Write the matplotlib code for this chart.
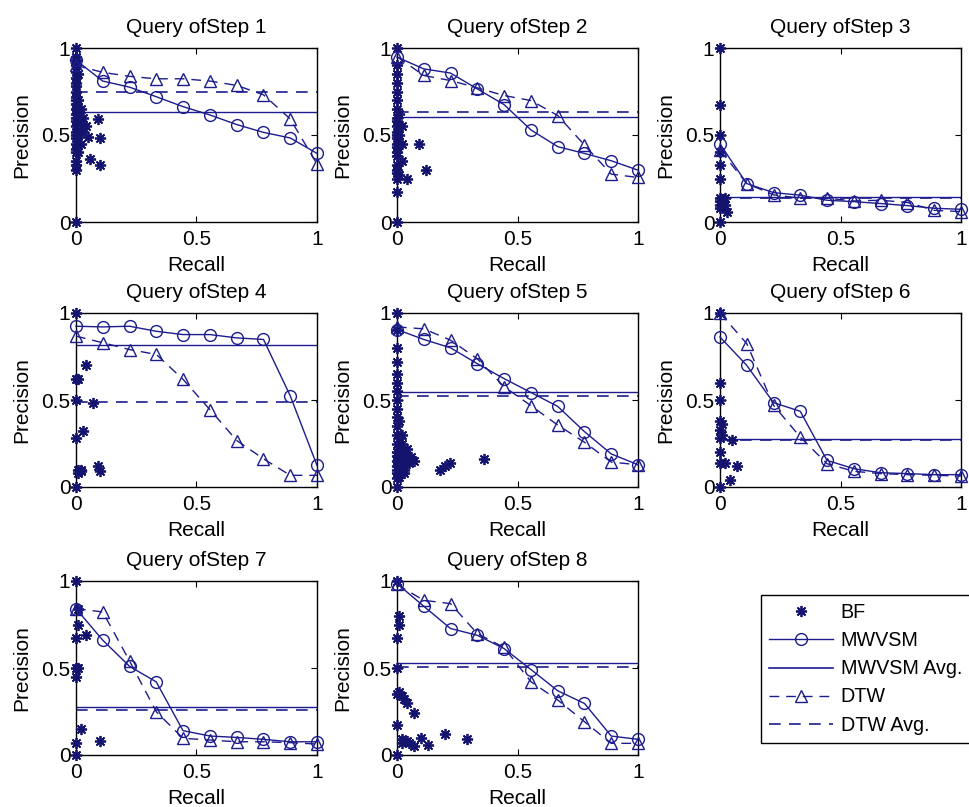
import matplotlib
matplotlib.use("Agg")
import matplotlib.pyplot as plt
from matplotlib.lines import Line2D

plt.rcParams['font.family'] = ['Liberation Sans', 'DejaVu Sans']

BLUE = '#1c1c8c'
STAR_BLUE = '#14146e'

steps = ['Query ofStep 1', 'Query ofStep 2', 'Query ofStep 3', 'Query ofStep 4',
         'Query ofStep 5', 'Query ofStep 6', 'Query ofStep 7', 'Query ofStep 8']

recall_levels = [0.0, 0.111, 0.222, 0.333, 0.444, 0.556, 0.667, 0.778, 0.889, 1.0]

mwvsm_precision = [
    [0.93, 0.81, 0.775, 0.72, 0.663, 0.615, 0.56, 0.515, 0.483, 0.394],
    [0.948, 0.88, 0.856, 0.765, 0.675, 0.529, 0.433, 0.394, 0.352, 0.298],
    [0.448, 0.221, 0.169, 0.154, 0.125, 0.117, 0.106, 0.094, 0.079, 0.073],
    [0.924, 0.92, 0.924, 0.895, 0.876, 0.876, 0.857, 0.848, 0.524, 0.124],
    [0.905, 0.848, 0.80, 0.709, 0.623, 0.543, 0.463, 0.318, 0.19, 0.128],
    [0.862, 0.699, 0.485, 0.435, 0.153, 0.105, 0.082, 0.077, 0.071, 0.071],
    [0.841, 0.66, 0.51, 0.42, 0.14, 0.109, 0.101, 0.09, 0.076, 0.076],
    [0.985, 0.855, 0.727, 0.688, 0.612, 0.491, 0.369, 0.296, 0.109, 0.09],
]

dtw_precision = [
    [0.90, 0.86, 0.837, 0.823, 0.823, 0.81, 0.785, 0.731, 0.592, 0.333],
    [0.95, 0.842, 0.813, 0.771, 0.727, 0.698, 0.612, 0.442, 0.275, 0.256],
    [0.413, 0.221, 0.156, 0.137, 0.137, 0.121, 0.125, 0.112, 0.067, 0.06],
    [0.867, 0.829, 0.79, 0.762, 0.619, 0.444, 0.267, 0.162, 0.067, 0.067],
    [0.92, 0.909, 0.844, 0.737, 0.577, 0.467, 0.356, 0.257, 0.143, 0.128],
    [1.0, 0.824, 0.47, 0.287, 0.134, 0.09, 0.077, 0.071, 0.067, 0.063],
    [0.841, 0.822, 0.541, 0.249, 0.096, 0.086, 0.076, 0.076, 0.071, 0.063],
    [0.98, 0.889, 0.87, 0.698, 0.618, 0.421, 0.316, 0.191, 0.067, 0.067],
]

mwvsm_avg = [0.635, 0.602, 0.143, 0.815, 0.547, 0.278, 0.277, 0.53]
dtw_avg = [0.746, 0.635, 0.137, 0.49, 0.524, 0.272, 0.258, 0.507]

bf_recall = [
    [0, 0, 0, 0, 0, 0, 0, 0, 0, 0, 0, 0, 0, 0, 0, 0, 0, 0, 0, 0, 0, 0, 0, 0, 0, 0, 0,
     0.01, 0.01, 0.01, 0.02, 0.02, 0.03, 0.03, 0.04, 0.05, 0.06, 0.09, 0.10, 0.10, 0.01, 0.02],
    [0, 0, 0, 0, 0, 0, 0, 0, 0, 0, 0, 0, 0, 0, 0, 0, 0, 0, 0, 0, 0, 0, 0,
     0.01, 0.01, 0.02, 0.02, 0.04, 0.09, 0.12, 0.01, 0.02],
    [0, 0, 0, 0, 0, 0, 0, 0, 0, 0, 0, 0.01, 0.02, 0.03, 0.02],
    [0, 0, 0.01, 0.04, 0, 0.07, 0, 0.03, 0.01, 0.02, 0.01, 0.09, 0.10, 0.02, 0],
    [0, 0, 0, 0, 0, 0, 0, 0, 0, 0, 0, 0, 0, 0, 0, 0, 0, 0, 0, 0, 0,
     0.01, 0.01, 0.01, 0.02, 0.02, 0.02, 0.03, 0.03, 0.04, 0.04, 0.05, 0.06, 0.07,
     0.01, 0.02, 0.03, 0.01, 0.02, 0.04, 0.18, 0.20, 0.22, 0.36],
    [0, 0, 0, 0, 0, 0, 0.01, 0.05, 0, 0, 0.02, 0.07, 0.04, 0, 0.01],
    [0, 0.01, 0.01, 0, 0.04, 0, 0.01, 0, 0.02, 0, 0.10, 0],
    [0, 0.01, 0.01, 0, 0, 0, 0.02, 0.04, 0.07, 0, 0.02, 0.05, 0.07, 0.10, 0.13,
     0.20, 0.29, 0, 0.01, 0.03, 0.04, 0.02],
]

bf_precision = [
    [0.0, 0.30, 0.33, 0.35, 0.40, 0.42, 0.45, 0.48, 0.50, 0.52, 0.55, 0.58, 0.60, 0.62,
     0.65, 0.68, 0.70, 0.72, 0.75, 0.78, 0.80, 0.83, 0.86, 0.90, 0.93, 0.95, 1.0,
     0.50, 0.70, 0.85, 0.57, 0.45, 0.52, 0.60, 0.55, 0.49, 0.36, 0.59, 0.48, 0.33, 0.40, 0.65],
    [0.0, 0.17, 0.25, 0.28, 0.30, 0.33, 0.38, 0.40, 0.43, 0.45, 0.48, 0.50, 0.52, 0.55,
     0.58, 0.60, 0.65, 0.70, 0.75, 0.80, 0.85, 0.90, 1.0,
     0.27, 0.50, 0.55, 0.45, 0.25, 0.45, 0.30, 0.62, 0.35],
    [0.0, 0.08, 0.10, 0.12, 0.14, 0.25, 0.33, 0.40, 0.50, 0.67, 1.0, 0.12, 0.10, 0.06, 0.14],
    [1.0, 0.62, 0.62, 0.70, 0.50, 0.48, 0.28, 0.32, 0.10, 0.09, 0.08, 0.12, 0.09, 0.10, 0.0],
    [0.0, 0.05, 0.08, 0.10, 0.12, 0.15, 0.18, 0.20, 0.25, 0.30, 0.35, 0.40, 0.45, 0.50,
     0.55, 0.60, 0.65, 0.72, 0.80, 0.90, 1.0,
     0.10, 0.20, 0.28, 0.12, 0.18, 0.25, 0.10, 0.20, 0.15, 0.22, 0.14, 0.17, 0.15,
     0.38, 0.30, 0.08, 0.06, 0.12, 0.18, 0.10, 0.12, 0.14, 0.16],
    [1.0, 0.60, 0.50, 0.38, 0.33, 0.20, 0.30, 0.27, 0.14, 0.28, 0.14, 0.12, 0.04, 0.0, 0.36],
    [1.0, 0.84, 0.75, 0.67, 0.69, 0.50, 0.50, 0.45, 0.15, 0.07, 0.08, 0.0],
    [1.0, 0.80, 0.75, 0.67, 0.50, 0.35, 0.34, 0.30, 0.24, 0.17, 0.07, 0.07, 0.05, 0.10,
     0.06, 0.12, 0.09, 0.0, 0.36, 0.32, 0.08, 0.09],
]

W, H = 969, 807
fig = plt.figure(figsize=(W / 100, H / 100), dpi=100)

col_left = [76, 397, 720]
row_top = [48, 313, 581]
ax_w, ax_h = 241, 174

FS = 15
asterisk = (8, 2, 0)

for i, title in enumerate(steps):
    r, c = divmod(i, 3)
    left, top = col_left[c], row_top[r]
    ax = fig.add_axes([left / W, 1 - (top + ax_h) / H, ax_w / W, ax_h / H])

    ax.plot(bf_recall[i], bf_precision[i], linestyle='none', marker=asterisk,
            markersize=8, markeredgewidth=1.3, color=STAR_BLUE, clip_on=False, zorder=3)
    ax.plot(recall_levels, mwvsm_precision[i], '-', marker='o', markersize=8.5,
            markerfacecolor='none', markeredgewidth=1.0, linewidth=1.0,
            color=BLUE, clip_on=False, zorder=4)
    ax.axhline(mwvsm_avg[i], color=BLUE, linewidth=1.0, linestyle='-', zorder=2)
    ax.plot(recall_levels, dtw_precision[i], linestyle=(0, (7, 5)), marker='^',
            markersize=9, markerfacecolor='none', markeredgewidth=1.0, linewidth=1.0,
            color=BLUE, clip_on=False, zorder=4)
    ax.axhline(dtw_avg[i], color=BLUE, linewidth=1.2, linestyle=(0, (7, 5)), zorder=2)

    ax.set_xlim(0, 1)
    ax.set_ylim(0, 1)
    ax.set_xticks([0, 0.5, 1])
    ax.set_yticks([0, 0.5, 1])
    ax.set_xticklabels(['0', '0.5', '1'])
    ax.set_yticklabels(['0', '0.5', '1'])
    ax.tick_params(direction='in', top=True, right=True, length=4, width=0.8,
                   labelsize=FS)
    ax.tick_params(axis='x', pad=6)
    ax.tick_params(axis='y', pad=4)
    for sp in ax.spines.values():
        sp.set_linewidth(1.0)
    ax.set_title(title, fontsize=FS, pad=11)
    ax.set_xlabel('Recall', fontsize=FS, labelpad=5)
    ax.set_ylabel('Precision', fontsize=FS, labelpad=7)

handles = [
    Line2D([], [], linestyle='none', marker=asterisk, markersize=8,
           markeredgewidth=1.3, color=STAR_BLUE),
    Line2D([], [], linestyle='-', marker='o', markersize=8.5, markerfacecolor='none',
           linewidth=1.0, color=BLUE),
    Line2D([], [], linestyle='-', linewidth=1.2, color=BLUE),
    Line2D([], [], linestyle=(0, (7, 5)), marker='^', markersize=9,
           markerfacecolor='none', linewidth=1.0, color=BLUE),
    Line2D([], [], linestyle=(0, (7, 5)), linewidth=1.2, color=BLUE),
]
labels = ['BF', 'MWVSM', 'MWVSM Avg.', 'DTW', 'DTW Avg.']
leg = fig.legend(handles, labels, loc='upper left',
                 bbox_to_anchor=(761 / W, 1 - 595 / H), fontsize=14.2,
                 frameon=True, fancybox=False, edgecolor='black', framealpha=1,
                 handlelength=3.25, handletextpad=0.38, labelspacing=0.46,
                 borderpad=0.42, borderaxespad=0)
leg.get_frame().set_linewidth(1.0)

fig.savefig('out.png', dpi=100, facecolor='white')
